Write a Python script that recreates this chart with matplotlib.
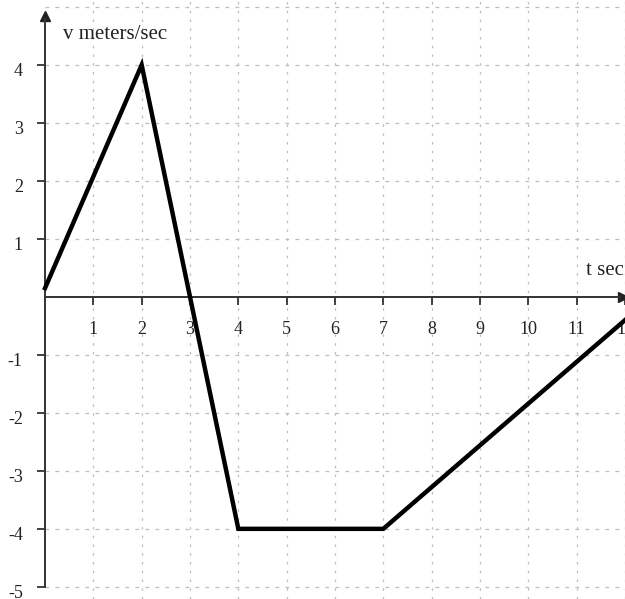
import matplotlib
matplotlib.use('Agg')
import matplotlib.pyplot as plt
import matplotlib.transforms as mtransforms

# velocity graph, piecewise linear
t = [0, 2, 3, 4, 7, 12]
v = [0.15, 4, 0, -4, -4, -0.4]
xticks = list(range(1, 13))
yticks = [-5, -4, -3, -2, -1, 1, 2, 3, 4]

plt.rcParams['font.family'] = 'Liberation Serif'

fig = plt.figure(figsize=(6.25, 5.99), dpi=100)
ax = fig.add_axes([45 / 625, 0, 580 / 625, 1])
ax.set_xlim(0, 12.0)
ax.set_ylim(-5.21, 5.12)

for s in ['top', 'right']:
    ax.spines[s].set_visible(False)
ax.spines['left'].set_position(('data', 0))
ax.spines['bottom'].set_position(('data', 0))
ax.spines['left'].set_bounds(-5, 4.8)
ax.spines['bottom'].set_bounds(0, 11.9)
ax.spines['left'].set_color('#333333')
ax.spines['bottom'].set_color('#333333')
ax.spines['left'].set_linewidth(1.4)
ax.spines['bottom'].set_linewidth(1.4)

# arrow heads
ax.plot(0, 4.85, marker='^', color='#222222', markersize=7, clip_on=False)
ax.plot(11.95, 0, marker='>', color='#222222', markersize=7, clip_on=False)

ax.set_xticks(xticks)
ax.set_yticks(yticks)
ax.set_xticklabels([str(i) for i in xticks])
ax.set_yticklabels([str(i) for i in yticks])
ax.tick_params(axis='x', direction='out', length=6, width=1.2, pad=11, labelsize=13, colors='#222222')
ax.tick_params(axis='y', direction='out', length=6, width=1.2, pad=10, labelsize=13, colors='#222222')
shift = mtransforms.ScaledTranslation(0, -5 / 100, fig.dpi_scale_trans)
for lab in ax.get_yticklabels():
    lab.set_transform(lab.get_transform() + shift)

# grid at every unit
for gx in range(1, 13):
    ax.axvline(gx, color='#bdbdbd', lw=0.9, linestyle=(0, (2, 5)), zorder=0)
for gy in range(-5, 6):
    if gy != 0:
        ax.axhline(gy, color='#bdbdbd', lw=0.9, linestyle=(0, (3, 5)), zorder=0)

ax.plot(t, v, color='black', lw=3.2, solid_joinstyle='miter', clip_on=False, zorder=3)

ax.text(0.37, 4.45, 'v meters/sec', fontsize=15, color='#222222')
ax.text(11.2, 0.38, 't sec', fontsize=15, color='#222222')

fig.savefig('out.png', dpi=100)
